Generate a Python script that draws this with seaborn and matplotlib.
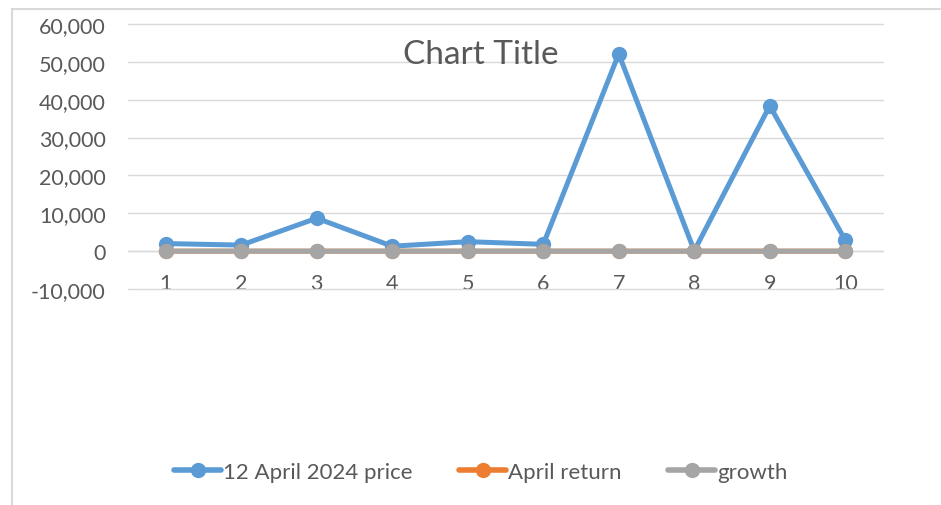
import numpy as np
import pandas as pd
import matplotlib.pyplot as plt
import matplotlib.ticker as mticker
from matplotlib.lines import Line2D
from matplotlib.patches import Rectangle
import seaborn as sns

# data
categories = [1, 2, 3, 4, 5, 6, 7, 8, 9, 10]
price_12_april = [2000, 1600, 8700, 1300, 2500, 1800, 52100, 100, 38400, 2900]
april_return = [0.05, -0.02, 0.12, 0.03, -0.04, 0.08, 0.10, -0.06, 0.02, 0.04]
growth = [0.06, -0.01, 0.10, 0.02, -0.03, 0.07, 0.09, -0.05, 0.03, 0.05]

series_names = ["12 April 2024 price", "April return", "growth"]
series_colors = ["#5B9BD5", "#ED7D31", "#A5A5A5"]
y_ticks = [-10000, 0, 10000, 20000, 30000, 40000, 50000, 60000]

df = pd.DataFrame({
    "x": categories * 3,
    "value": price_12_april + april_return + growth,
    "series": [series_names[0]] * 10 + [series_names[1]] * 10 + [series_names[2]] * 10,
})

sns.set_theme(style="white")
plt.rcParams["font.family"] = ["Lato", "DejaVu Sans"]
TXT = "#595959"
GRID = "#D9D9D9"

fig = plt.figure(figsize=(9.41, 5.06), dpi=100)
ax = fig.add_axes([128 / 941, 1 - 290 / 506, (883 - 128) / 941, (290 - 25) / 506])

sns.lineplot(data=df, x="x", y="value", hue="series", hue_order=series_names,
             palette=series_colors, marker="o", markersize=11, markeredgewidth=0,
             linewidth=3.6, ax=ax, legend=False)

ax.set_xlim(0.5, 10.5)
ax.set_ylim(-10000, 60000)
ax.set_yticks(y_ticks)
ax.set_xticks(categories)
ax.yaxis.set_major_formatter(mticker.FuncFormatter(lambda v, p: f"{v:,.0f}".replace("\u2212", "-")))
ax.set_xlabel("")
ax.set_ylabel("")

ax.grid(axis="y", color=GRID, linewidth=1.0)
for gl in ax.get_ygridlines():
    gl.set_clip_on(False)
ax.set_axisbelow(True)
for s in ["top", "right", "left"]:
    ax.spines[s].set_visible(False)
ax.spines["bottom"].set_position(("data", 0))
ax.spines["bottom"].set_color(GRID)
ax.spines["bottom"].set_linewidth(1.0)
ax.spines["bottom"].set_zorder(0)

ax.tick_params(axis="y", length=0, pad=16, labelsize=15.5, labelcolor=TXT)
ax.tick_params(axis="x", length=0, pad=16, labelsize=15.5, labelcolor=TXT)

fig.text(481 / 941, 1 - 55 / 506, "Chart Title", ha="center", va="center",
         fontsize=24, color=TXT)

# legend
handles = [Line2D([0], [0], color=c, linewidth=4, marker="o", markersize=11,
                  markeredgewidth=0) for c in series_colors]
fig.legend(handles, series_names, loc="center", bbox_to_anchor=(481 / 941, 1 - 473 / 506),
           ncol=3, frameon=False, fontsize=16, labelcolor=TXT, handlelength=2.1,
           handletextpad=0.1, columnspacing=2.1)

# chart area border
fig.patches.append(Rectangle((12 / 941, -0.1), 1.2, 1 - 10 / 506 + 0.1,
                             transform=fig.transFigure, fill=False,
                             edgecolor=GRID, linewidth=1.5))

fig.savefig("out.png", dpi=100)
